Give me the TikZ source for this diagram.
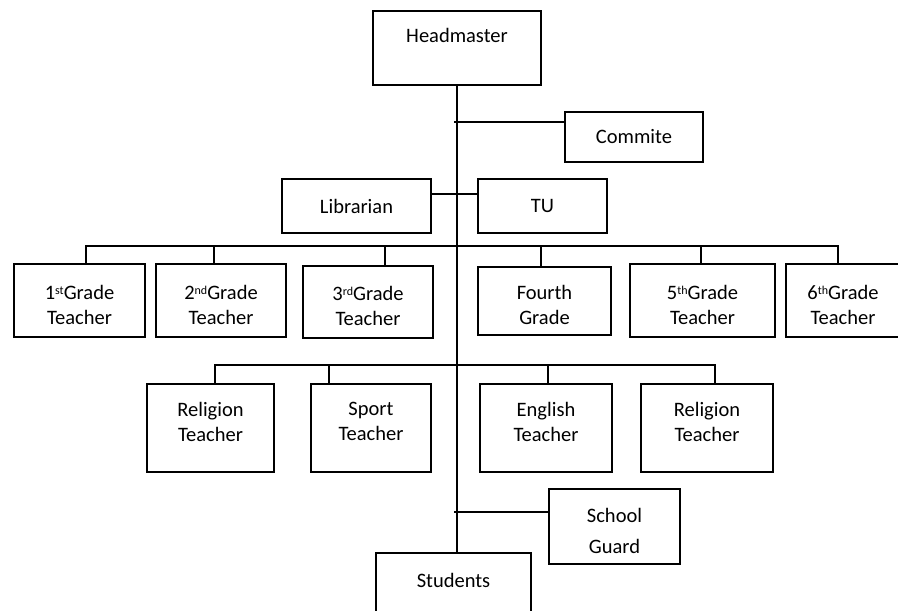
\documentclass[tikz,border=0pt]{standalone}
\usepackage{fontspec}
\setmainfont{Carlito}
\newcommand{\sups}[1]{\raisebox{0.55ex}{\fontsize{12}{12}\selectfont #1}}
\newcommand{\topstr}[1]{\rule{0pt}{#1}}
\newcommand{\botstr}[1]{\rule[-#1]{0pt}{#1}}
\begin{document}
\begin{tikzpicture}[x=1pt,y=-1pt,
  box/.style={draw, line width=2pt, inner sep=0pt, align=center, font=\fontsize{20.5}{25}\selectfont},
  conn/.style={line width=2pt}]
\useasboundingbox (0,0) rectangle (898,611);
% top
\node[box, minimum width=168, minimum height=74] (head) at (457,48) {Headmaster\\\mbox{}};
\node[box, minimum width=138, minimum height=50] (commite) at (634,137) {Commite};
\node[box, minimum width=149, minimum height=54] (lib) at (356.5,206) {Librarian};
\node[box, minimum width=129, minimum height=54] (tu) at (542.5,206) {TU};
% grades
\node[box, minimum width=131, minimum height=73] (g1) at (79.5,300.5) {\topstr{23pt}1\sups{st}Grade\\Teacher};
\node[box, minimum width=130, minimum height=73] (g2) at (221,300.5) {\topstr{23pt}2\sups{nd}Grade\\Teacher};
\node[box, minimum width=130, minimum height=72] (g3) at (368,302) {\topstr{23pt}3\sups{rd}Grade\\Teacher};
\node[box, minimum width=133, minimum height=68] (g4) at (544.5,301) {\topstr{23pt}Fourth\\Grade};
\node[box, minimum width=145, minimum height=73] (g5) at (702.5,300.5) {\topstr{23pt}5\sups{th}Grade\\Teacher};
\node[box, minimum width=114, minimum height=73] (g6) at (843,300.5) {\topstr{23pt}6\sups{th}Grade\\Teacher};
% subject teachers
\node[box, minimum width=127, minimum height=88] (t1) at (210.5,428) {Religion\\Teacher\botstr{13pt}};
\node[box, minimum width=120, minimum height=88] (t2) at (371,428) {Sport\\Teacher\botstr{13pt}};
\node[box, minimum width=132, minimum height=88] (t3) at (546,428) {English\\Teacher\botstr{13pt}};
\node[box, minimum width=132, minimum height=88] (t4) at (707,428) {Religion\\Teacher\botstr{13pt}};
% bottom
\node[box, minimum width=131, minimum height=75] (guard) at (614.5,526.5) {\topstr{24pt}School\\[6pt]Guard};
\node[box, minimum width=155, minimum height=80] (stud) at (453.5,593) {Students\\\mbox{}};
% trunk
\coordinate (trunkTop) at (457,85);
\draw[conn] (trunkTop) -- (trunkTop |- stud.north);
% commite branch
\coordinate (cb) at (454,122);
\draw[conn] (cb) -- (cb -| commite.west);
% librarian - TU
\coordinate (lt) at (431,194);
\draw[conn] (lt -| lib.east) -- (lt -| tu.west);
% grade bus
\coordinate (gb1) at (86,246);
\coordinate (gb2) at (214,246);
\coordinate (gb3) at (385,246);
\coordinate (gb4) at (541,246);
\coordinate (gb5) at (701,246);
\coordinate (gb6) at (838,246);
\draw[conn] (gb1 |- g1.north) -- (gb1) -- (gb6) -- (gb6 |- g6.north);
\draw[conn] (gb2) -- (gb2 |- g2.north);
\draw[conn] (gb3) -- (gb3 |- g3.north);
\draw[conn] (gb4) -- (gb4 |- g4.north);
\draw[conn] (gb5) -- (gb5 |- g5.north);
% teacher bus
\coordinate (tb1) at (214.5,365);
\coordinate (tb2) at (329,365);
\coordinate (tb3) at (548,365);
\coordinate (tb4) at (714.5,365);
\draw[conn] (tb1 |- t1.north) -- (tb1) -- (tb4) -- (tb4 |- t4.north);
\draw[conn] (tb2) -- (tb2 |- t2.north);
\draw[conn] (tb3) -- (tb3 |- t3.north);
% school guard branch
\coordinate (sg) at (454,512);
\draw[conn] (sg) -- (sg -| guard.west);
\end{tikzpicture}
\end{document}
